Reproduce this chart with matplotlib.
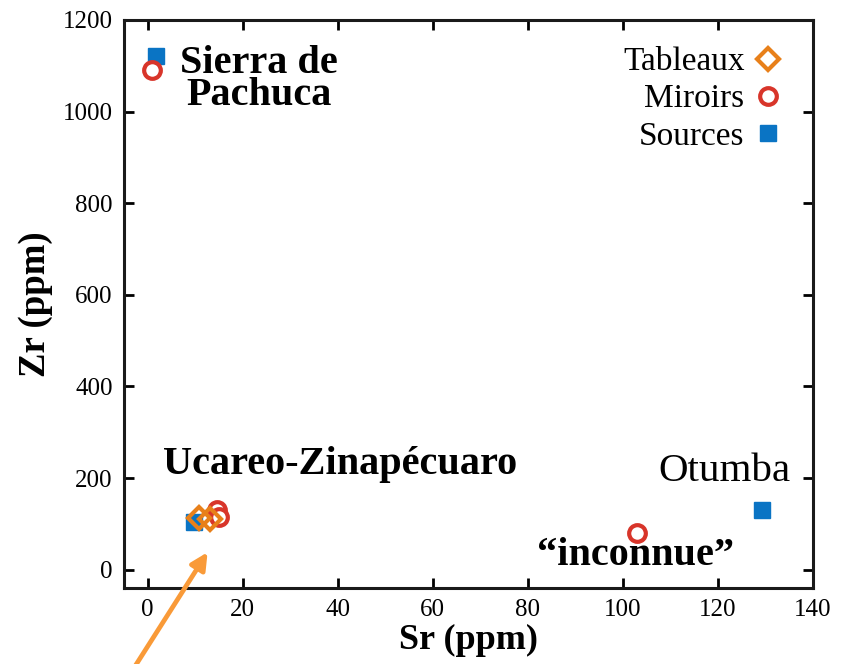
import matplotlib.pyplot as plt
from matplotlib.lines import Line2D

# ---------- data (ppm) ----------
src_sr = [1.7, 9.7, 129.3]
src_zr = [1121, 105, 131]

mir_sr = [0.8, 14.5, 15.0, 103.0]
mir_zr = [1090, 131, 116, 81]

tab_sr = [10.7, 13.1]
tab_zr = [113, 111]

x_ticks = [0, 20, 40, 60, 80, 100, 120, 140]
y_ticks = [0, 200, 400, 600, 800, 1000, 1200]

blue = "#0a74c4"
red = "#d8352a"
orange = "#e8801a"
arrow_col = "#f99a38"

plt.rcParams["font.family"] = ["Liberation Serif", "DejaVu Serif"]

fig = plt.figure(figsize=(8.41, 6.64), dpi=100)
ax = fig.add_axes([0.1474, 0.1145, 0.8193, 0.8554])

sq = dict(ls="none", marker="s", ms=11.5, color=blue, mec=blue)
circ = dict(ls="none", marker="o", ms=12, mfc="white", mec=red, mew=3)
diam = dict(ls="none", marker="D", ms=11.5, mfc="none", mec=orange, mew=3)

ax.plot(src_sr, src_zr, zorder=3, **sq)
ax.plot(mir_sr, mir_zr, zorder=4, **circ)
ax.plot(tab_sr, tab_zr, zorder=5, **diam)

ax.set_xlim(-5, 140)
ax.set_ylim(-40, 1200)
ax.set_xticks(x_ticks)
ax.set_yticks(y_ticks)
ax.tick_params(direction="in", length=7, width=2, labelsize=18,
               top=True, right=True, pad=8)
for sp in ax.spines.values():
    sp.set_linewidth(2.2)
    sp.set_color("#1a1a1a")

ax.set_xlabel("Sr (ppm)", fontsize=26, fontweight="bold", labelpad=2)
ax.set_ylabel("Zr (ppm)", fontsize=26.5, fontweight="bold", labelpad=7)

# group labels
ax.text(23.4, 1071, "Sierra de\nPachuca", fontsize=29, fontweight="bold",
        ha="center", va="center", linespacing=0.82)
ax.text(40.4, 229, "Ucareo-Zinapécuaro", fontsize=29, fontweight="bold",
        ha="center", va="center")
ax.text(121.3, 214, "Otumba", fontsize=29.5, ha="center", va="center")
ax.text(102.7, 30, "\u201cinconnue\u201d", fontsize=29, fontweight="bold",
        ha="center", va="center")

# arrow pointing at the cluster
ax.annotate("", xy=(12.6, 38), xycoords="data",
            xytext=(128 / 841, -0.02), textcoords="figure fraction",
            arrowprops=dict(arrowstyle="-|>,head_length=1.0,head_width=0.5",
                            color=arrow_col, lw=3.4, shrinkA=0, shrinkB=0),
            annotation_clip=False)

handles = [Line2D([], [], **diam), Line2D([], [], **circ), Line2D([], [], **sq)]
ax.legend(handles, ["Tableaux", "Miroirs", "Sources"], loc="upper right",
          bbox_to_anchor=(0.983, 0.988), frameon=False, markerfirst=False,
          fontsize=24, handlelength=0.8, handletextpad=0.3, labelspacing=0.2,
          borderaxespad=0.2)

fig.savefig("out.png", dpi=100)
